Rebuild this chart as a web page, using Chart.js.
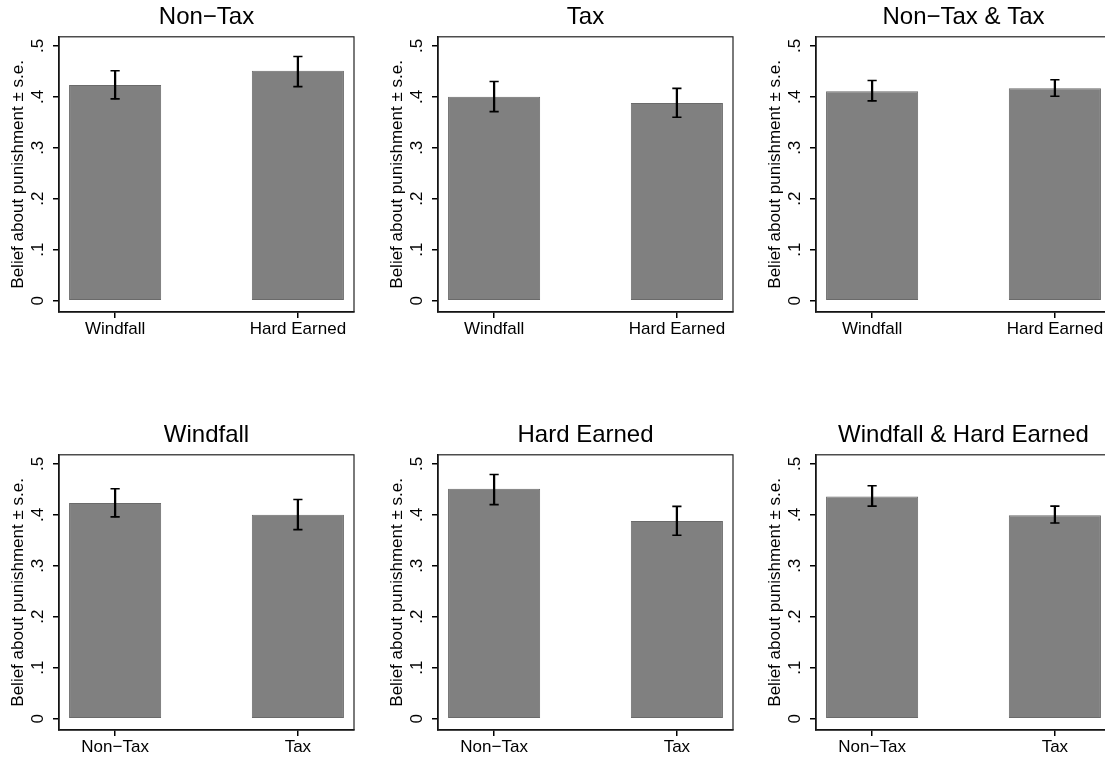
<!DOCTYPE html>
<html>
<head>
<meta charset="utf-8">
<script src="https://cdn.jsdelivr.net/npm/chart.js@4"></script>
<style>
  html, body { margin: 0; padding: 0; background: #fff; overflow: hidden; }
  .panel { position: absolute; width: 379px; height: 418px; }
</style>
</head>
<body>
<div class="panel" style="left:0px;top:0px"><canvas id="c0"></canvas></div>
<div class="panel" style="left:378.7px;top:0px"><canvas id="c1"></canvas></div>
<div class="panel" style="left:757.4px;top:0px"><canvas id="c2"></canvas></div>
<div class="panel" style="left:0px;top:418px"><canvas id="c3"></canvas></div>
<div class="panel" style="left:378.7px;top:418px"><canvas id="c4"></canvas></div>
<div class="panel" style="left:757.4px;top:418px"><canvas id="c5"></canvas></div>
<script>
// Beliefs about punishment, mean ± s.e., six panels

const incomeCats = ['Windfall', 'Hard Earned'];
const taxCats = ['Non\u2212Tax', 'Tax'];
const panelTitles = ['Non\u2212Tax', 'Tax', 'Non\u2212Tax & Tax',
  'Windfall', 'Hard Earned', 'Windfall & Hard Earned'];

// top row: by income source
const meanNonTax = [0.423, 0.451];
const lowNonTax = [0.396, 0.420];
const highNonTax = [0.451, 0.479];

const meanTax = [0.400, 0.388];
const lowTax = [0.371, 0.360];
const highTax = [0.430, 0.4165];

const meanPooledTax = [0.411, 0.417];
const lowPooledTax = [0.392, 0.401];
const highPooledTax = [0.432, 0.4335];

// bottom row: by tax treatment
const meanWindfall = [0.423, 0.400];
const lowWindfall = [0.396, 0.371];
const highWindfall = [0.451, 0.430];

const meanHardEarned = [0.451, 0.388];
const lowHardEarned = [0.420, 0.360];
const highHardEarned = [0.479, 0.4165];

const meanPooledIncome = [0.436, 0.399];
const lowPooledIncome = [0.417, 0.384];
const highPooledIncome = [0.457, 0.417];

const yTickValues = [0, 0.1, 0.2, 0.3, 0.4, 0.5];
const yTickLabels = ['0', '.1', '.2', '.3', '.4', '.5'];
const yTitle = 'Belief about punishment \u00b1 s.e.';

const panels = [
  { cats: incomeCats, mean: meanNonTax, low: lowNonTax, high: highNonTax },
  { cats: incomeCats, mean: meanTax, low: lowTax, high: highTax },
  { cats: incomeCats, mean: meanPooledTax, low: lowPooledTax, high: highPooledTax },
  { cats: taxCats, mean: meanWindfall, low: lowWindfall, high: highWindfall },
  { cats: taxCats, mean: meanHardEarned, low: lowHardEarned, high: highHardEarned },
  { cats: taxCats, mean: meanPooledIncome, low: lowPooledIncome, high: highPooledIncome },
];

const colors = {
  bar: '#808080',
  barEdge: '#6a6a6a',
  ink: '#000000',
  frame: '#222222',
};

Chart.defaults.font.family = "'Liberation Sans', Arial, sans-serif";
Chart.defaults.color = colors.ink;
Chart.defaults.animation = false;

// outline of the plot region (top and right sides)
const frameBox = {
  id: 'frameBox',
  beforeDatasetsDraw(chart) {
    const { ctx, chartArea: a } = chart;
    ctx.save();
    ctx.strokeStyle = colors.frame;
    ctx.lineWidth = 1.2;
    ctx.strokeRect(a.left, a.top, a.right - a.left, a.bottom - a.top);
    ctx.restore();
  }
};

panels.forEach((p, i) => {
  const xs = p.cats.map((_, k) => k + 1);
  new Chart(document.getElementById('c' + i), {
    type: 'bar',
    data: {
      datasets: [
        {
          type: 'line',
          label: 'caps',
          data: xs.flatMap((x, k) => [{ x, y: p.low[k] }, { x, y: p.high[k] }]),
          showLine: false,
          pointStyle: 'line',
          pointRadius: 4.6,
          pointBorderColor: colors.ink,
          pointBorderWidth: 1.6,
          order: 0,
        },
        {
          label: 'se',
          data: xs.map((x, k) => ({ x, y: [p.low[k], p.high[k]] })),
          backgroundColor: colors.ink,
          barThickness: 1.6,
          grouped: false,
          order: 1,
        },
        {
          label: 'mean',
          data: xs.map((x, k) => ({ x, y: p.mean[k] })),
          backgroundColor: colors.bar,
          borderColor: colors.barEdge,
          borderWidth: 1,
          borderSkipped: false,
          categoryPercentage: 0.504,
          barPercentage: 1,
          grouped: false,
          order: 2,
        },
      ]
    },
    options: {
      responsive: true,
      maintainAspectRatio: false,
      layout: { padding: { left: 0, right: 25, top: 0, bottom: 0 } },
      plugins: {
        legend: { display: false },
        tooltip: { enabled: false },
        title: {
          display: true,
          fullSize: false,
          text: panelTitles[i],
          color: colors.ink,
          font: { size: 24, weight: 'normal' },
          padding: { top: 3, bottom: 5 },
        },
      },
      scales: {
        x: {
          type: 'linear',
          min: 0.693,
          max: 2.307,
          offset: false,
          afterFit: (scale) => { scale.height = 106; },
          afterBuildTicks: (scale) => { scale.ticks = xs.map(v => ({ value: v })); },
          ticks: {
            callback: (v) => p.cats[v - 1],
            font: { size: 17 },
            color: colors.ink,
            padding: 1,
            maxRotation: 0,
            autoSkip: false,
          },
          grid: {
            offset: false,
            drawOnChartArea: false,
            drawTicks: true,
            tickLength: 6,
            color: colors.ink,
            lineWidth: 1.5,
          },
          border: { display: true, color: colors.ink, width: 1.5 },
        },
        y: {
          min: -0.0222,
          max: 0.5177,
          afterFit: (scale) => { scale.width = 59; },
          afterBuildTicks: (scale) => { scale.ticks = yTickValues.map(v => ({ value: v })); },
          ticks: {
            callback: (v) => yTickLabels[yTickValues.indexOf(v)],
            font: { size: 17 },
            color: colors.ink,
            minRotation: 90,
            maxRotation: 90,
            crossAlign: 'center',
            padding: 8,
          },
          grid: {
            drawOnChartArea: false,
            drawTicks: true,
            tickLength: 6,
            color: colors.ink,
            lineWidth: 1.5,
          },
          border: { display: true, color: colors.ink, width: 1.5 },
          title: {
            display: true,
            text: yTitle,
            color: colors.ink,
            font: { size: 17 },
            padding: { top: 8, bottom: 0 },
          },
        },
      },
    },
    plugins: [frameBox],
  });
});
</script>
</body>
</html>
